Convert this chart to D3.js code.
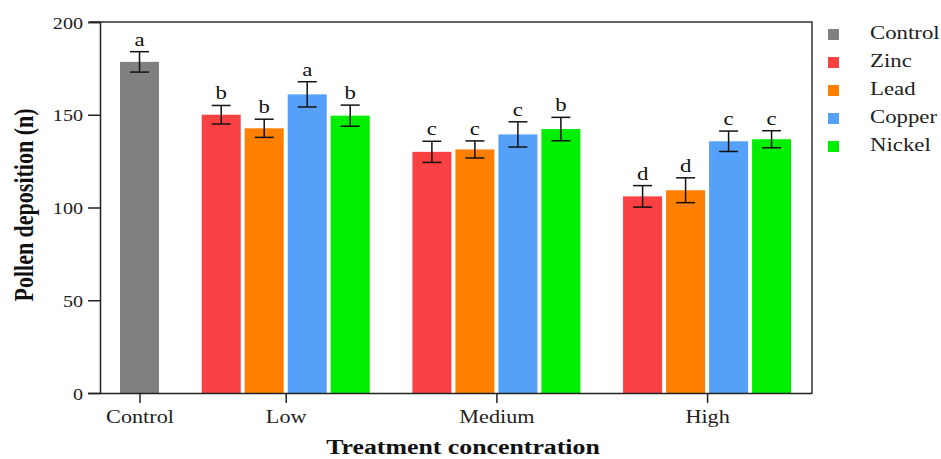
<!DOCTYPE html>
<html>
<head>
<meta charset="utf-8">
<script src="https://cdn.jsdelivr.net/npm/d3@7"></script>
<style>
  body { margin: 0; background: #fff; }
  text { font-family: "Liberation Serif", "Times New Roman", serif; }
</style>
</head>
<body>
<svg width="941" height="459"></svg>
<script>
// data
var groups = ["Control", "Low", "Medium", "High"];
var series = ["Control", "Zinc", "Lead", "Copper", "Nickel"];
var colors = ["#808080", "#f94144", "#ff8000", "#55a0f8", "#00ee00"];

var controlMean = [178.5], controlErr = [5.5], controlLetter = ["a"];
// Low, Medium, High
var zincMean   = [150.0, 130.0, 106.0], zincErr   = [5.0, 5.7, 5.8], zincLetter   = ["b", "c", "d"];
var leadMean   = [142.7, 131.3, 109.3], leadErr   = [4.9, 4.6, 6.7], leadLetter   = ["b", "c", "d"];
var copperMean = [161.0, 139.4, 135.7], copperErr = [6.8, 6.8, 5.5], copperLetter = ["a", "c", "c"];
var nickelMean = [149.5, 142.3, 136.8], nickelErr = [5.7, 6.3, 4.6], nickelLetter = ["b", "b", "c"];

var yTicks = [0, 50, 100, 150, 200];

// build the rows: one per bar
var bars = [];
bars.push({group: "Control", series: "Control", mean: controlMean[0], err: controlErr[0], letter: controlLetter[0]});
var treat = [
  {s: "Zinc", m: zincMean, e: zincErr, l: zincLetter},
  {s: "Lead", m: leadMean, e: leadErr, l: leadLetter},
  {s: "Copper", m: copperMean, e: copperErr, l: copperLetter},
  {s: "Nickel", m: nickelMean, e: nickelErr, l: nickelLetter}
];
groups.slice(1).forEach(function(g, gi) {
  treat.forEach(function(t) {
    bars.push({group: g, series: t.s, mean: t.m[gi], err: t.e[gi], letter: t.l[gi]});
  });
});

// slot layout: each bar takes a slot, groups separated by a gap
var gap = 0.9;
var slot = 0, groupCenter = {};
groups.forEach(function(g, gi) {
  var rows = bars.filter(function(d) { return d.group === g; });
  if (gi > 0) slot += gap;
  var first = slot;
  rows.forEach(function(d) { d.slot = slot; slot += 1; });
  groupCenter[g] = (first + slot - 1) / 2;
});

var svg = d3.select("svg"),
    plotL = 100, plotR = 812, plotT = 22, plotB = 393,
    stretch = 1.2; // the original figure is a bit wide, text looks stretched

var x = d3.scaleLinear().domain([-0.919, 15.64]).range([plotL, plotR]);
var y = d3.scaleLinear().domain([0, 200]).range([plotB, plotT]);
var color = d3.scaleOrdinal().domain(series).range(colors);
var barW = (x(1) - x(0)) * 39 / 43;

// frame (top and right)
svg.append("path")
  .attr("d", "M" + (plotL - 10) + "," + plotT + "H" + plotR + "V" + plotB)
  .attr("fill", "none").attr("stroke", "#333").attr("stroke-width", 1.5);

// bars
svg.append("g").selectAll("rect")
  .data(bars).enter().append("rect")
  .attr("x", function(d) { return x(d.slot) - barW / 2; })
  .attr("y", function(d) { return y(d.mean); })
  .attr("width", barW)
  .attr("height", function(d) { return y(0) - y(d.mean); })
  .attr("fill", function(d) { return color(d.series); });

// error bars
var eb = svg.append("g").attr("stroke", "#111").attr("stroke-width", 1.5);
bars.forEach(function(d) {
  var cx = x(d.slot);
  eb.append("line").attr("x1", cx).attr("x2", cx)
    .attr("y1", y(d.mean + d.err)).attr("y2", y(d.mean - d.err));
  eb.append("line").attr("x1", cx - 9.5).attr("x2", cx + 9.5)
    .attr("y1", y(d.mean + d.err)).attr("y2", y(d.mean + d.err));
  eb.append("line").attr("x1", cx - 9.5).attr("x2", cx + 9.5)
    .attr("y1", y(d.mean - d.err)).attr("y2", y(d.mean - d.err));
});

// significance letters
svg.append("g").selectAll("text")
  .data(bars).enter().append("text")
  .attr("transform", function(d) {
    return "translate(" + x(d.slot) + "," + (y(d.mean + d.err) - 6) + ") scale(" + stretch + ",1)";
  })
  .attr("text-anchor", "middle")
  .attr("font-size", 19)
  .attr("fill", "#111")
  .text(function(d) { return d.letter; });

// y axis
var yAxis = svg.append("g")
  .attr("transform", "translate(" + plotL + ",0)")
  .call(d3.axisLeft(y).tickValues(yTicks).tickSize(12).tickPadding(5));
yAxis.selectAll("text")
  .attr("x", null).attr("dy", null)
  .attr("transform", "translate(-17,6) scale(1.15,1)")
  .attr("font-size", 17.5).attr("fill", "#222")
  .style("font-family", "'Liberation Serif', serif");
yAxis.selectAll("line").attr("stroke", "#222").attr("stroke-width", 1.5);
yAxis.select(".domain").attr("stroke", "#222").attr("stroke-width", 1.5);

// x axis
var xAxis = svg.append("g")
  .attr("transform", "translate(0," + plotB + ")")
  .call(d3.axisBottom(x).tickValues(groups.map(function(g) { return groupCenter[g]; }))
    .tickFormat(function(v, i) { return groups[i]; }).tickSize(10).tickSizeOuter(0));
xAxis.selectAll("text")
  .attr("y", null).attr("dy", null)
  .attr("transform", "translate(0,30) scale(" + stretch + ",1)")
  .attr("font-size", 18.5).attr("fill", "#222")
  .style("font-family", "'Liberation Serif', serif");
xAxis.selectAll("line").attr("stroke", "#222").attr("stroke-width", 1.5);
xAxis.select(".domain").attr("stroke", "#222").attr("stroke-width", 1.5);

// titles
svg.append("text")
  .attr("transform", "translate(463,454) scale(1.26,1)")
  .attr("text-anchor", "middle")
  .attr("font-size", 20.5).attr("font-weight", "bold").attr("fill", "#111")
  .text("Treatment concentration");

svg.append("text")
  .attr("transform", "translate(33,205) rotate(-90) scale(1,1.2)")
  .attr("text-anchor", "middle")
  .attr("font-size", 22).attr("font-weight", "bold").attr("fill", "#111")
  .text("Pollen deposition (n)");

// legend
var legend = svg.append("g").selectAll("g")
  .data(series).enter().append("g")
  .attr("transform", function(d, i) { return "translate(828," + (34 + i * 28) + ")"; });
legend.append("rect")
  .attr("x", 0).attr("y", -5).attr("width", 11).attr("height", 11)
  .attr("fill", function(d) { return color(d); });
legend.append("text")
  .attr("transform", "translate(42,4.5) scale(" + stretch + ",1)")
  .attr("font-size", 19).attr("fill", "#222")
  .text(function(d) { return d; });
</script>
</body>
</html>
